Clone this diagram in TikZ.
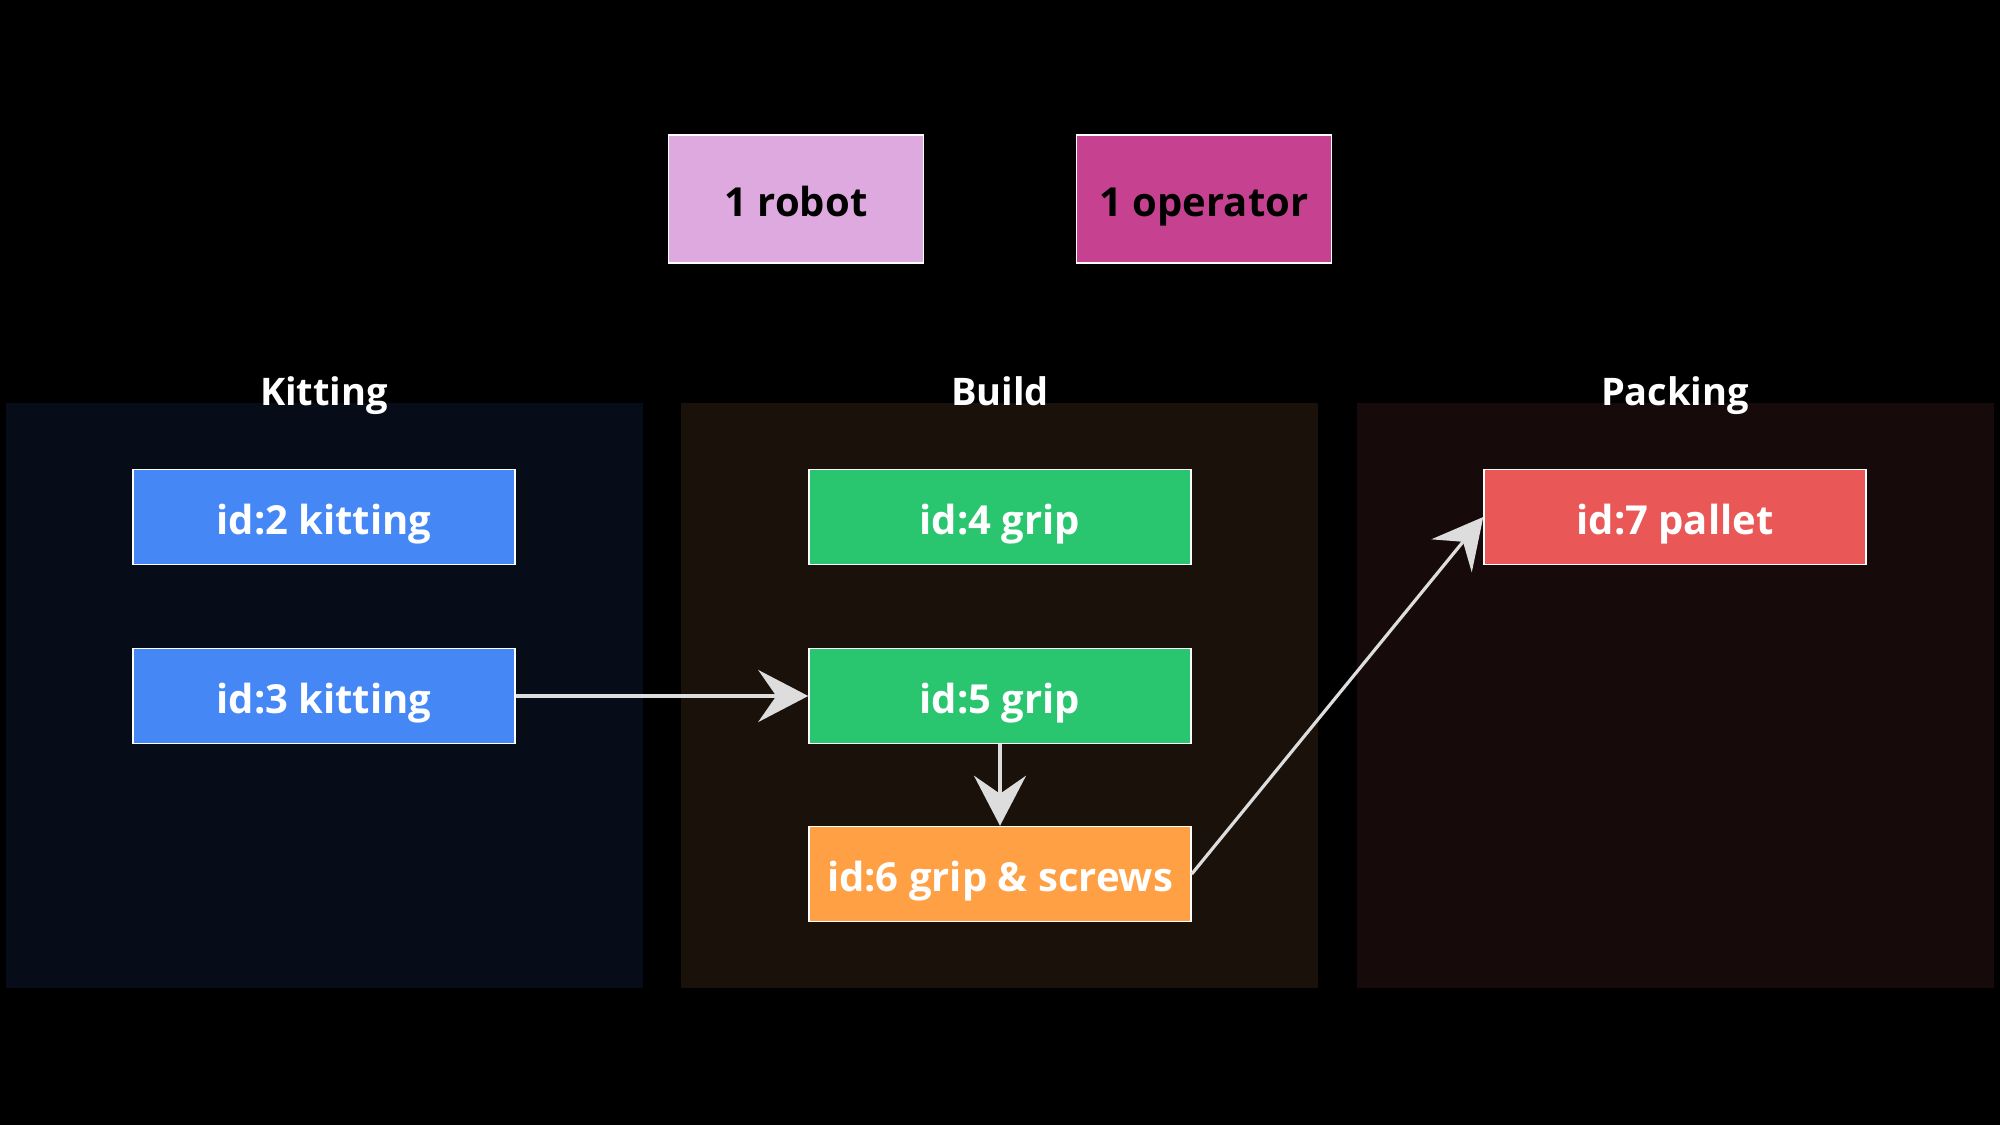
\documentclass[tikz,border=0pt]{standalone}
\usepackage{fontspec}
\setmainfont{Open Sans}[BoldFont={* Bold}]
\usetikzlibrary{arrows.meta}
\definecolor{lanek}{HTML}{070D18}
\definecolor{laneb}{HTML}{1A110A}
\definecolor{lanep}{HTML}{160A0A}
\definecolor{robotc}{HTML}{DDA9DE}
\definecolor{operc}{HTML}{C64291}
\definecolor{bluec}{HTML}{4487F5}
\definecolor{greenc}{HTML}{29C66F}
\definecolor{orangec}{HTML}{FEA043}
\definecolor{redc}{HTML}{EA5757}
\definecolor{arrc}{HTML}{DDDDDD}
\tikzset{
  lane/.style={draw=none, minimum width=637pt, minimum height=585pt, inner sep=0pt, anchor=north west},
  lanetitle/.style={text=white, font=\fontsize{38}{44}\selectfont\bfseries, inner sep=0pt, anchor=base},
  task/.style={draw=white, line width=1.5pt, minimum width=382pt, minimum height=95pt, inner sep=0pt, text height=40pt, text depth=6pt, text=white, font=\fontsize{40}{46}\selectfont\bfseries},
  res/.style={draw=white, line width=1.5pt, minimum width=255pt, minimum height=128pt, inner sep=0pt, text height=40pt, text depth=6pt, text=black, font=\fontsize{40}{46}\selectfont\bfseries},
  flow/.style={draw=arrc, line width=3.2pt, -{Stealth[length=50pt, width=52pt, inset=18pt]}}
}
\begin{document}
\begin{tikzpicture}[x=1pt, y=-1pt]
\fill[black] (0,0) rectangle (2000,1125);
\useasboundingbox (0,0) rectangle (2000,1125);
% lanes
\node[lane, fill=lanek] (lk) at (6,403) {};
\node[lane, fill=laneb] (lb) at (681,403) {};
\node[lane, fill=lanep] (lp) at (1357,403) {};
\node[lanetitle] (tk) at (324,405) {Kitting};
\node[lanetitle] (tb) at (1000,405) {Build};
\node[lanetitle] (tp) at (1675,405) {Packing};
% resources
\node[res, fill=robotc] (robot) at (796,199) {1 robot};
\node[res, fill=operc] (oper) at (1204,199) {1 operator};
% tasks
\node[task, fill=bluec] (n2) at (324,517) {id:2 kitting};
\node[task, fill=bluec] (n3) at (324,696) {id:3 kitting};
\node[task, fill=greenc] (n4) at (1000,517) {id:4 grip};
\node[task, fill=greenc] (n5) at (1000,696) {id:5 grip};
\node[task, fill=orangec] (n6) at (1000,874) {id:6 grip \& screws};
\node[task, fill=redc] (n7) at (1675,517) {id:7 pallet};
% connectors
\draw[flow] (n3.east) -- (n5.west);
\draw[flow] (n5.south) -- (n6.north);
\draw[flow] (n6.east) -- (n7.west);
\end{tikzpicture}
\end{document}
